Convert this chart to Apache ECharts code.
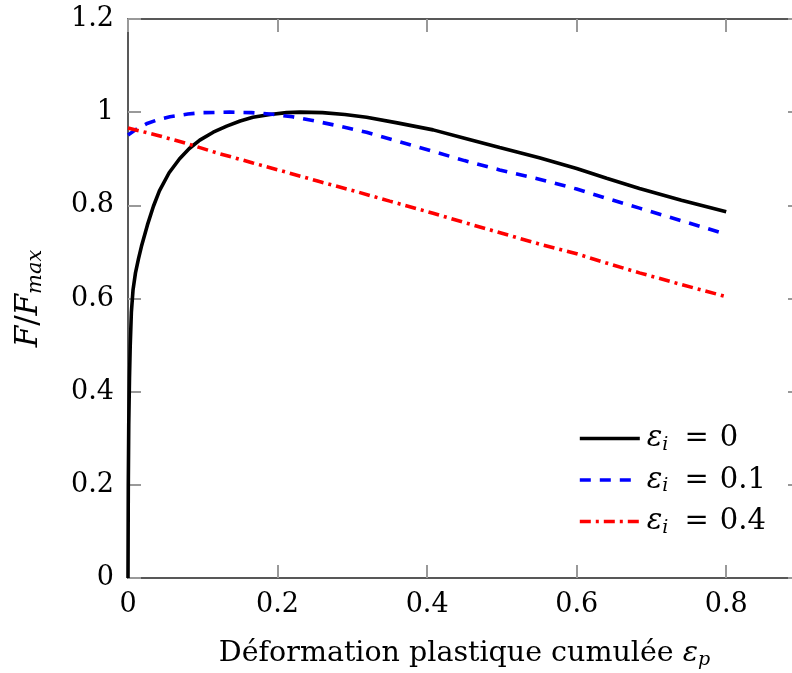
<!DOCTYPE html>
<html>
<head>
<meta charset="utf-8">
<script src="https://cdn.jsdelivr.net/npm/echarts@6/dist/echarts.min.js"></script>
<style>html,body{margin:0;padding:0;background:#fff}#c{width:792px;height:673px}</style>
</head>
<body>
<div id="c"></div>
<script>
// Data
const seriesNames = ['εi = 0', 'εi = 0.1', 'εi = 0.4'];
const legendValues = ['0', '0.1', '0.4'];
const xTicks = [0, 0.2, 0.4, 0.6, 0.8];
const yTicks = [0, 0.2, 0.4, 0.6, 0.8, 1, 1.2];
const eps0 = [[0,0],[0.0004,0.2],[0.001,0.33],[0.002,0.43],[0.003,0.5],[0.0045,0.57],[0.0067,0.618],[0.01,0.655],[0.014,0.685],[0.018,0.712],[0.026,0.758],[0.034,0.798],[0.042,0.831],[0.055,0.87],[0.069,0.9],[0.082,0.922],[0.096,0.94],[0.114,0.957],[0.132,0.97],[0.15,0.981],[0.167,0.989],[0.19,0.995],[0.212,0.999],[0.23,1.0],[0.26,0.999],[0.29,0.995],[0.319,0.989],[0.36,0.977],[0.408,0.962],[0.45,0.944],[0.497,0.924],[0.55,0.902],[0.6,0.879],[0.64,0.858],[0.684,0.836],[0.74,0.811],[0.8,0.786]];
const eps01 = [[0,0.951],[0.01,0.962],[0.0246,0.975],[0.04,0.984],[0.056,0.99],[0.08,0.996],[0.1,0.999],[0.136,1.0],[0.165,0.999],[0.19,0.996],[0.22,0.99],[0.247,0.982],[0.28,0.971],[0.319,0.957],[0.36,0.938],[0.408,0.916],[0.45,0.896],[0.497,0.876],[0.55,0.856],[0.6,0.835],[0.64,0.815],[0.684,0.794],[0.74,0.767],[0.8,0.738]];
const eps04 = [[0,0.966],[0.04,0.95],[0.078,0.933],[0.12,0.912],[0.167,0.891],[0.21,0.872],[0.256,0.851],[0.3,0.832],[0.35,0.809],[0.408,0.783],[0.45,0.763],[0.5,0.74],[0.55,0.717],[0.6,0.696],[0.64,0.676],[0.684,0.655],[0.74,0.63],[0.8,0.604]];

const FONT = 'DejaVu Serif';
function mkRich(fs, sfs, lh) {
  return {
    m: {fontFamily: FONT, fontSize: fs, fontStyle: 'italic', color: '#000', lineHeight: lh},
    t: {fontFamily: FONT, fontSize: fs, color: '#000', lineHeight: lh},
    eq: {fontFamily: FONT, fontSize: fs, color: '#000', lineHeight: lh, padding: [0, 11, 0, 16]},
    s: {fontFamily: FONT, fontSize: sfs, fontStyle: 'italic', color: '#000', lineHeight: 8, verticalAlign: 'bottom'}
  };
}
const chart = echarts.init(document.getElementById('c'), null, {renderer: 'canvas'});
const tickStyle = {show: true, inside: true, length: 13, lineStyle: {color: '#999', width: 2}};
const axLine = {show: true, onZero: false, lineStyle: {color: '#222', width: 1.5}};
function mk(name, data, color, type) {
  return {name, type: 'line', data, showSymbol: false, symbol: 'none', smooth: false,
    lineStyle: {color, width: 3.6, type}, itemStyle: {color}};
}
chart.setOption({
  animation: false,
  backgroundColor: '#fff',
  grid: {left: 128, top: 19, width: 673, height: 559, containLabel: false, outerBoundsMode: 'none'},
  legend: {
    show: true, orient: 'vertical', left: 578, top: 424, padding: 0, itemWidth: 60, itemHeight: 4, itemGap: 11,
    data: seriesNames,
    itemStyle: {opacity: 0},
    lineStyle: {width: 3.6},
    formatter: function (n) { return '{m|ε}{s|i}{eq|=}{t|' + legendValues[seriesNames.indexOf(n)] + '}'; },
    textStyle: {rich: mkRich(29, 19, 32), fontFamily: FONT, fontSize: 29, padding: [0, 0, 0, 2]}
  },
  xAxis: [{
    type: 'value', min: 0, max: 0.9, interval: 0.2, position: 'bottom',
    axisLine: axLine, axisTick: tickStyle, splitLine: {show: false},
    axisLabel: {fontFamily: FONT, fontSize: 27, color: '#000', margin: 13,
      formatter: v => xTicks.some(t => Math.abs(t - v) < 1e-9) ? String(+v.toFixed(1)) : ''},
    name: '{t|Déformation plastique cumulée }{m|ε}{s|p}', nameLocation: 'middle', nameGap: 60,
    nameTextStyle: {rich: mkRich(28.5, 19, 32)}
  }, {
    type: 'value', min: 0, max: 0.9, interval: 0.2, position: 'top',
    axisLine: axLine, axisTick: tickStyle, axisLabel: {show: false}, splitLine: {show: false}
  }],
  yAxis: [{
    type: 'value', min: 0, max: 1.2, interval: 0.2, position: 'left',
    axisLine: axLine, axisTick: tickStyle, splitLine: {show: false},
    axisLabel: {fontFamily: FONT, fontSize: 27, color: '#000', margin: 14,
      formatter: v => yTicks.some(t => Math.abs(t - v) < 1e-9) ? String(+v.toFixed(1)) : ''},
    name: '{m|F}{t|/}{m|F}{s|max}', nameLocation: 'middle', nameGap: 82,
    nameTextStyle: {rich: mkRich(31, 21, 34)}
  }, {
    type: 'value', min: 0, max: 1.2, interval: 0.2, position: 'right',
    axisLine: axLine, axisTick: tickStyle, axisLabel: {show: false}, splitLine: {show: false}
  }],
  series: [
    mk(seriesNames[0], eps0, '#000', 'solid'),
    mk(seriesNames[1], eps01, '#0000ff', [11, 9]),
    mk(seriesNames[2], eps04, '#ff0000', [11, 5, 3, 5])
  ]
});
</script>
</body>
</html>
